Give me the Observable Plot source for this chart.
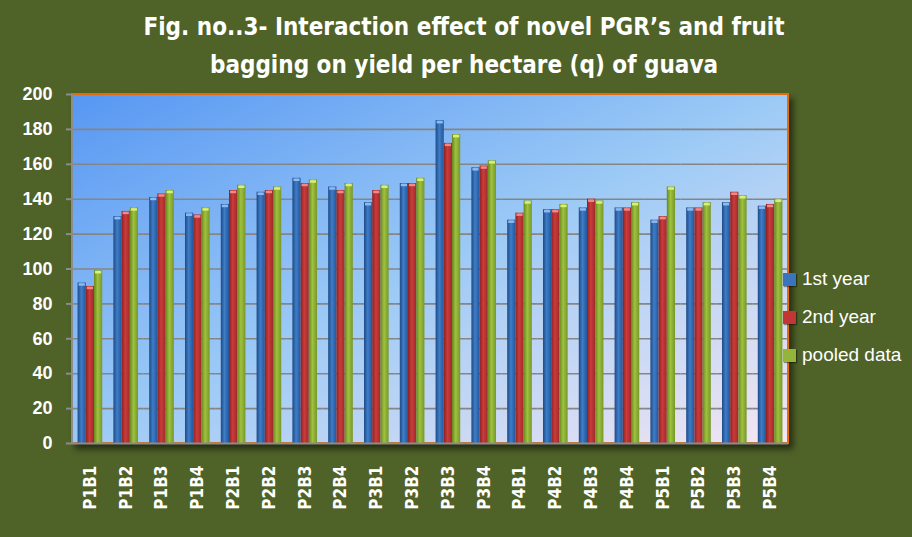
<!DOCTYPE html>
<html><head><meta charset="utf-8">
<script src="https://cdn.jsdelivr.net/npm/d3@7"></script>
<script src="https://cdn.jsdelivr.net/npm/@observablehq/plot@0.6"></script>
<style>
html,body{margin:0;padding:0;background:#4f6228;}
#wrap{position:relative;width:912px;height:537px;background:#4f6228;overflow:hidden;}
#title{height:86px;box-sizing:border-box;padding-top:8px;padding-left:16px;text-align:center;color:#fff;font-family:"Liberation Sans Narrow","DejaVu Sans Condensed",sans-serif;font-weight:bold;font-size:24px;line-height:38px;}
#legend{position:absolute;left:783px;top:0;font-family:"Liberation Sans",Arial,sans-serif;font-size:19px;color:#fff;}
.item{position:absolute;left:0;height:22px;line-height:22px;white-space:nowrap;display:flex;align-items:center;}
.sw{width:13px;height:13px;margin-right:6px;box-shadow:1px 1px 1px rgba(0,0,0,0.4);}
#chart svg [aria-label^="fx-axis"] text{font-family:"Liberation Sans Narrow","DejaVu Sans Condensed",sans-serif;font-weight:bold;font-size:17px;fill:#fff;}
#chart svg [aria-label^="y-axis"] text{font-family:"Liberation Sans",Arial,sans-serif;font-weight:bold;font-size:18px;fill:#fff;}
#chart svg [aria-label^="y-axis"] line,#chart svg [aria-label^="y-axis"] path{stroke:#8c8c8c;stroke-width:2;}
</style>
</head><body>
<svg width="0" height="0" style="position:absolute">
<defs>
<linearGradient id="gBlue" x1="0" x2="1" y1="0" y2="0">
<stop offset="0" stop-color="#1d4a86"/><stop offset="0.45" stop-color="#3f7dc7"/><stop offset="1" stop-color="#22569a"/>
</linearGradient>
<linearGradient id="gRed" x1="0" x2="1" y1="0" y2="0">
<stop offset="0" stop-color="#8a2222"/><stop offset="0.45" stop-color="#cc3b3b"/><stop offset="1" stop-color="#9e2a2a"/>
</linearGradient>
<linearGradient id="gGreen" x1="0" x2="1" y1="0" y2="0">
<stop offset="0" stop-color="#67861f"/><stop offset="0.45" stop-color="#9fc23e"/><stop offset="1" stop-color="#77962a"/>
</linearGradient>
<linearGradient id="gBg" x1="0" y1="0" x2="1" y2="1">
<stop offset="0" stop-color="#5797f3"/><stop offset="0.5" stop-color="#9ccaf6"/><stop offset="1" stop-color="#f5e6f2"/>
</linearGradient>
</defs>
</svg>
<div id="wrap">
<div id="title">Fig. no..3- Interaction effect of novel PGR’s and fruit<br>bagging on yield per hectare (q) of guava</div>
<div id="chart"></div>
<div id="legend"></div>
</div>
<script>
const categories = ["P1B1","P1B2","P1B3","P1B4","P2B1","P2B2","P2B3","P2B4","P3B1","P3B2","P3B3","P3B4","P4B1","P4B2","P4B3","P4B4","P5B1","P5B2","P5B3","P5B4"];
const series = ["1st year","2nd year","pooled data"];
const year1  = [92,130,141,132,137,144,152,147,138,149,185,158,128,134,135,135,128,135,138,136];
const year2  = [90,133,143,131,145,145,149,145,145,149,172,159,132,134,140,135,130,135,144,137];
const pooled = [99,135,145,135,148,147,151,149,148,152,177,162,139,137,139,138,147,138,142,140];
const yTicks = [0,20,40,60,80,100,120,140,160,180,200];
const fills = ["url(#gBlue)","url(#gRed)","url(#gGreen)"];
const caps = ["#8fbaf0","#f08a8a","#d8f07a"];

const values = [year1, year2, pooled];
const data = categories.flatMap((c, i) => series.map((s, j) => ({cat: c, series: s, value: values[j][i]})));

const plot = Plot.plot({
  width: 912, height: 451,
  marginTop: 8, marginBottom: 94, marginLeft: 72, marginRight: 124,
  style: {background: "transparent", color: "#fff", fontFamily: "Liberation Sans, Arial, sans-serif", fontSize: "18px", overflow: "visible"},
  fx: {domain: categories, paddingInner: 0, paddingOuter: 0, round: false, axis: "bottom", tickRotate: -90, tickSize: 0, tickPadding: 22, label: null},
  x: {domain: series, paddingInner: 0, paddingOuter: 0.68, round: false, axis: null},
  y: {domain: [0, 200], ticks: yTicks, tickSize: 6, tickPadding: 14, label: null},
  color: {type: "ordinal", domain: series, range: fills},
  marks: [
    Plot.ruleY(yTicks.filter(t => t > 0 && t < 200), {stroke: "#858585", strokeWidth: 1.6}),
    Plot.barY(data, {fx: "cat", x: "series", y: "value", fill: "series"}),
    ...series.map((s, j) => Plot.tickY(data.filter(d => d.series === s), {fx: "cat", x: "series", y: "value", stroke: caps[j], strokeWidth: 2.5, dy: 1.5, inset: 1})),
    Plot.ruleY([0], {stroke: "#8c8c8c", strokeWidth: 2})
  ]
});
document.getElementById("chart").appendChild(plot);

// plot-area background and left axis line from the scales
const fxR = plot.scale("fx").range, yR = plot.scale("y").range;
const svg = d3.select(plot);
const bg = svg.insert("g", ":first-child");
bg.append("rect")
  .attr("x", fxR[0]).attr("y", yR[1])
  .attr("width", fxR[1] - fxR[0]).attr("height", yR[0] - yR[1])
  .attr("fill", "url(#gBg)").attr("stroke", "#e46c0a").attr("stroke-width", 2)
  .style("filter", "drop-shadow(4px 5px 3px rgba(0,0,0,0.55))");
svg.append("line")
  .attr("x1", fxR[0]).attr("x2", fxR[0]).attr("y1", yR[1]).attr("y2", yR[0] + 1)
  .attr("stroke", "#8c8c8c").attr("stroke-width", 2);

// legend
const leg = document.getElementById("legend");
const tops = [268, 306, 344];
series.forEach((s, i) => {
  const it = document.createElement("div");
  it.className = "item"; it.style.top = tops[i] + "px";
  const sw = document.createElement("span"); sw.className = "sw"; sw.style.background = ["#3a74bd","#c23636","#93b63a"][i];
  it.appendChild(sw); it.appendChild(document.createTextNode(s));
  leg.appendChild(it);
});
</script>
</body></html>
